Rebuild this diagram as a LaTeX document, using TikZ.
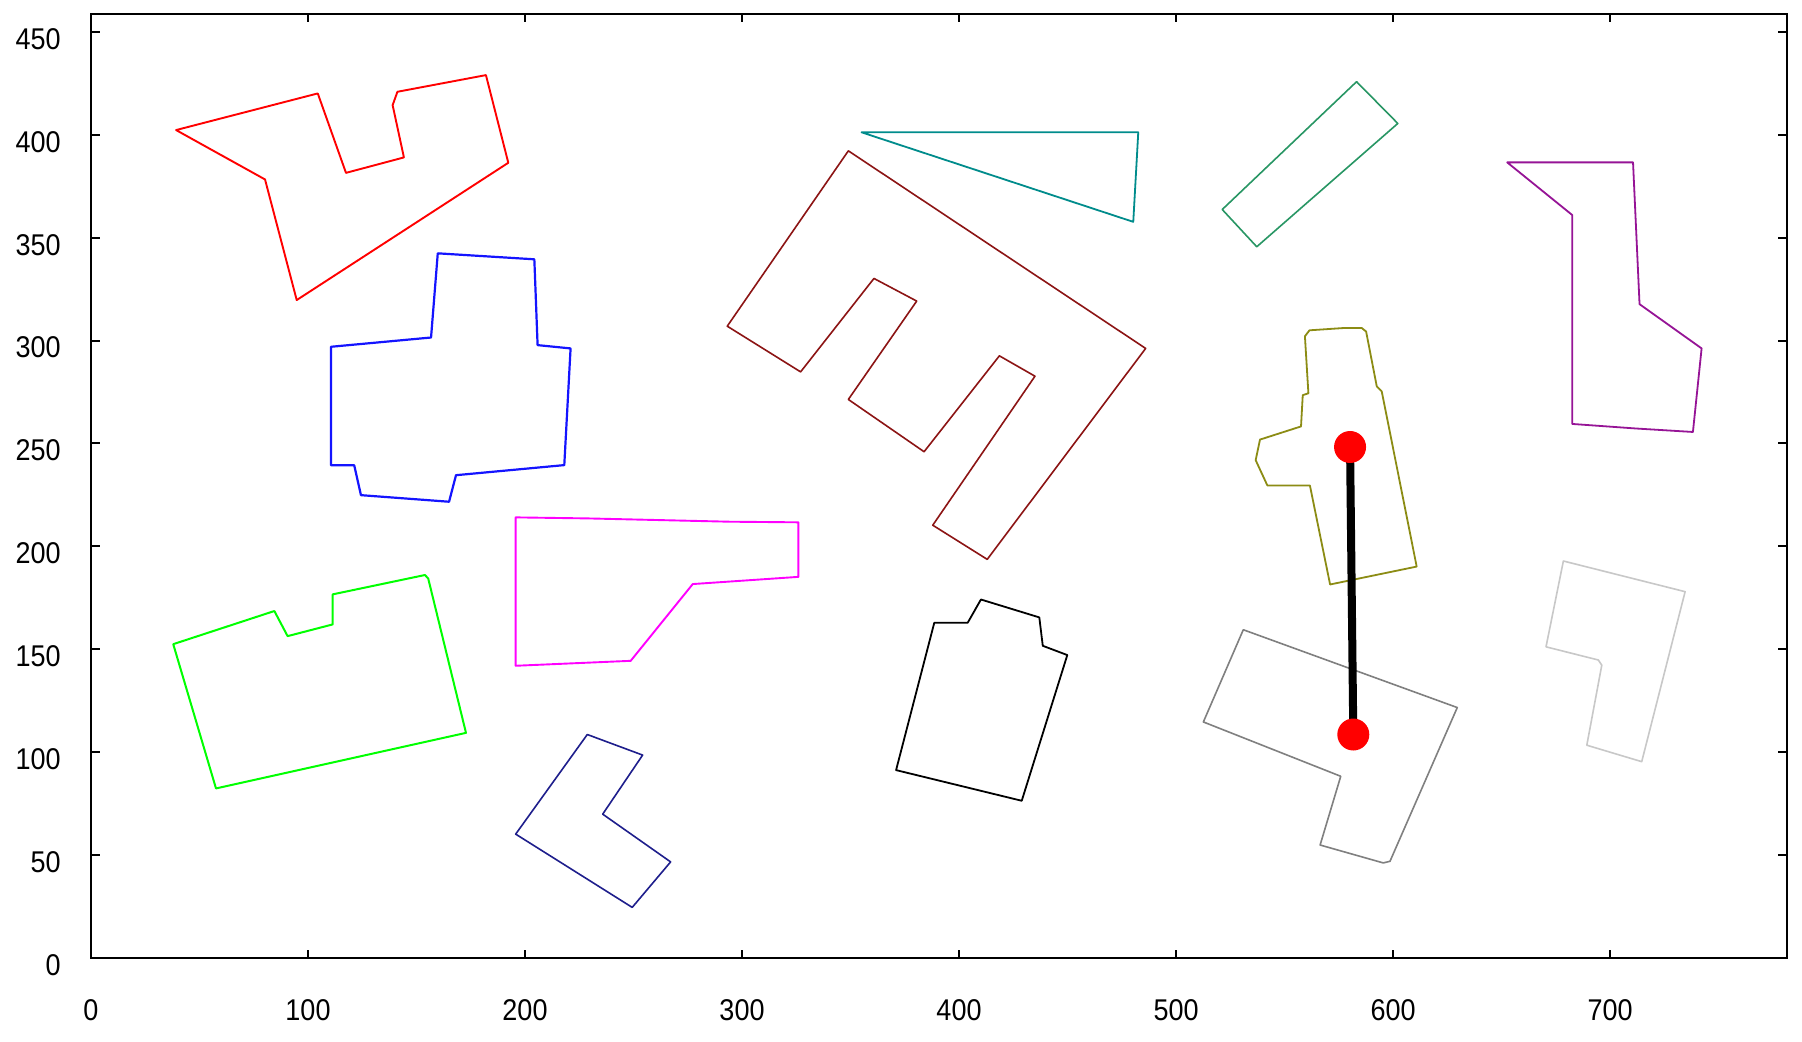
\documentclass[tikz,border=0pt]{standalone}
\usepackage{fontspec}
\newfontfamily\tickfont{Liberation Sans}[FakeStretch=0.9]
\definecolor{cRed}{RGB}{255,0,0}
\definecolor{cBlue}{RGB}{20,20,255}
\definecolor{cTeal}{RGB}{0,140,140}
\definecolor{cBrown}{RGB}{140,20,20}
\definecolor{cGreen}{RGB}{0,255,0}
\definecolor{cMagenta}{RGB}{255,0,255}
\definecolor{cNavy}{RGB}{30,30,140}
\definecolor{cGray}{RGB}{128,128,128}
\definecolor{cLight}{RGB}{200,200,200}
\definecolor{cOlive}{RGB}{140,140,20}
\definecolor{cSea}{RGB}{40,150,100}
\definecolor{cPurple}{RGB}{150,20,150}
\tikzset{
  axisline/.style={draw=black, line width=1pt},
  poly/.style={line width=0.8pt, line join=round},
  ticklab/.style={font=\tickfont\fontsize{15}{15}\selectfont, inner sep=0pt, text=black},
  pathline/.style={draw=black, line width=4pt},
  dotfill/.style={fill=red}
}
\begin{document}
\begin{tikzpicture}
\fill[white] (0,0) rectangle (901pt,520.5pt);
\useasboundingbox (0,0) rectangle (901pt,520.5pt);
\begin{scope}[shift={(45.5pt,41.5pt)}, x=1.085pt, y=1.029pt]
  % frame
  \draw[axisline] (0,0) rectangle (781.5,458.6);
  \foreach \xv in {0,100,...,700} {
    \draw[axisline] (\xv,0) -- ++(0,4pt);
    \draw[axisline] (\xv,458.6) -- ++(0,-4pt);
    \node[ticklab, anchor=center] (xl\xv) at ([yshift=-26pt]\xv,0) {\xv};
  }
  \foreach \yv in {0,50,...,450} {
    \draw[axisline] (0,\yv) -- ++(4.5pt,0);
    \draw[axisline] (781.5,\yv) -- ++(-4.5pt,0);
    \node[ticklab, anchor=east] (yl\yv) at ([xshift=-15pt,yshift=-3.5pt]0,\yv) {\yv};
  }
  % polygons
  \draw[poly, cRed, line width=0.95pt] (39.2,402.3) -- (104.5,420.1) -- (117.5,381.5) -- (144.2,389) -- (139,414.4) -- (141.2,420.9) -- (182,429) -- (192.3,386.4) -- (94.8,319.7) -- (80.2,378.3) -- cycle;
  \draw[poly, cBlue, line width=1.1pt] (110.6,297) -- (156.7,301.5) -- (159.8,342.4) -- (204.3,339.5) -- (205.8,297.8) -- (221,296.2) -- (218.1,239.5) -- (168.2,234.6) -- (165,221.7) -- (124.4,224.9) -- (121.3,239.4) -- (110.6,239.4) -- cycle;
  \draw[poly, cTeal, line width=0.9pt] (355.1,401.2) -- (482.6,401.2) -- (480.3,357.7) -- cycle;
  \draw[poly, cBrown] (349,392.2) -- (486,296.2) -- (413,193.7) -- (387.9,210.3) -- (435,282.7) -- (418.6,292.6) -- (383.9,246) -- (349,271.4) -- (380.5,319.2) -- (360.8,330.2) -- (327,284.8) -- (293.2,307) -- cycle;
  \draw[poly, cGreen, line width=1pt] (37.9,152.5) -- (84.5,168.6) -- (90.6,156.4) -- (111.4,162.1) -- (111.4,176.7) -- (153.9,186.1) -- (155.4,184.4) -- (172.8,109.4) -- (57.6,82.4) -- cycle;
  \draw[poly, cMagenta, line width=0.95pt] (195.7,214.1) -- (228.9,213.6) -- (294.2,212) -- (326,211.7) -- (326,185.2) -- (277.3,181.7) -- (248.7,144.4) -- (195.7,142) -- cycle;
  \draw[poly, cNavy] (228.7,108.6) -- (254.2,98.6) -- (235.8,69.9) -- (267.1,46.7) -- (249.4,24.6) -- (195.7,60.2) -- cycle;
  \draw[poly, black, line width=0.9pt] (410.1,174.2) -- (437,165.5) -- (438.6,151.7) -- (449.9,147.2) -- (428.9,76.4) -- (371,91.3) -- (388.6,162.9) -- (404,162.9) -- cycle;
  \draw[poly, cOlive, line width=0.9pt] (559.4,302.1) -- (561.5,305) -- (577.1,306.1) -- (585.6,306.1) -- (587.6,304.4) -- (592.5,277.8) -- (594.8,275.3) -- (610.9,190.2) -- (571,181.5) -- (561.7,229.6) -- (542.1,229.6) -- (536.7,241.9) -- (538.7,251.9) -- (557.6,258.3) -- (558.4,273.5) -- (561,274.4) -- cycle;
  \draw[poly, cGray] (531,159.5) -- (629.6,121.7) -- (598.6,47) -- (595.5,46.2) -- (566.4,54.9) -- (575.9,88.3) -- (512.6,114.7) -- cycle;
  \draw[poly, cLight] (678.5,192.9) -- (734.6,178) -- (714.6,95.4) -- (689.3,103.4) -- (696.2,142.3) -- (694.6,144.8) -- (670.5,151.2) -- cycle;
  \draw[poly, cSea] (583.2,425.8) -- (602.2,405.5) -- (537.2,345.6) -- (521.3,363.7) -- cycle;
  \draw[poly, cPurple, line width=0.9pt] (652.6,386.6) -- (710.6,386.6) -- (713.6,317.7) -- (742.2,296.2) -- (738.2,255.6) -- (711.8,257.3) -- (682.6,259.5) -- (682.6,361) -- cycle;
  % path
  \coordinate (start) at (580.2,248.3);
  \coordinate (goal) at (581.7,108.6);
  \draw[pathline] (start) -- (goal);
  \fill[dotfill] (start) circle (8pt);
  \fill[dotfill] (goal) circle (8pt);
\end{scope}
\end{tikzpicture}
\end{document}
